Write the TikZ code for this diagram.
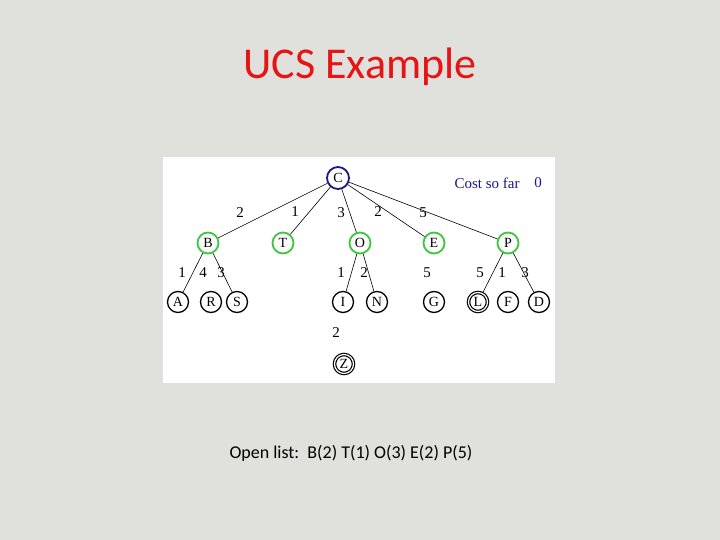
\documentclass[tikz,border=0pt]{standalone}
\usepackage{fontspec}
\setmainfont{Liberation Serif}
\newfontfamily\calib{Carlito}
\definecolor{bggray}{RGB}{224,224,220}
\definecolor{titlered}{RGB}{230,20,20}
\definecolor{navy}{RGB}{25,25,135}
\definecolor{ngreen}{RGB}{60,200,60}
\begin{document}
\begin{tikzpicture}[x=1pt,y=-1pt,
  nd/.style={circle,draw=black,line width=1.3pt,minimum size=21pt,inner sep=0pt,font=\fontsize{14}{14}\selectfont},
  gnd/.style={nd,draw=ngreen,line width=1.8pt},
  cnd/.style={nd,draw=navy,line width=1.8pt,minimum size=22pt},
  dnd/.style={nd,double=white,double distance=1.2pt,line width=1.2pt,minimum size=19pt},
  ed/.style={draw=black,line width=0.6pt},
  lb/.style={font=\fontsize{15}{15}\selectfont,inner sep=0pt}]
\fill[bggray] (0,0) rectangle (720,540);
\useasboundingbox (0,0) rectangle (720,540);
\fill[white] (163,157) rectangle (555,383);
\node[font=\calib\fontsize{44}{44}\selectfont,text=titlered] (title) at (360,67) {UCS Example};
\node[font=\calib\fontsize{18}{18}\selectfont] (open) at (351,453) {Open list:\ \ B(2) T(1) O(3) E(2) P(5)};
% root
\node[cnd] (C) at (338,178) {C};
\node[lb,text=navy] (cost) at (487,183) {Cost so far};
\node[lb,text=navy] (zero) at (538,183) {0};
% level 2
\node[gnd] (B) at (208,243) {B};
\node[gnd] (T) at (283,243) {T};
\node[gnd] (O) at (360,243) {O};
\node[gnd] (E) at (434,243) {E};
\node[gnd] (P) at (508,243) {P};
% level 3
\node[nd] (A) at (178,302) {A};
\node[nd] (R) at (211,302) {R};
\node[nd] (S) at (237,302) {S};
\node[nd] (I) at (343,302) {I};
\node[nd] (N) at (377,302) {N};
\node[nd] (G) at (434,302) {G};
\node[dnd] (L) at (478,302) {L};
\node[nd] (F) at (508,302) {F};
\node[nd] (D) at (539,302) {D};
\node[dnd] (Z) at (344,364) {Z};
% edges
\draw[ed] (C) -- (B);
\draw[ed] (C) -- (T);
\draw[ed] (C) -- (O);
\draw[ed] (C) -- (E);
\draw[ed] (C) -- (P);
\draw[ed] (B) -- (A);
\draw[ed] (B) -- (S);
\draw[ed] (O) -- (I);
\draw[ed] (O) -- (N);
\draw[ed] (P) -- (L);
\draw[ed] (P) -- (D);
% labels
\node[lb] (l1) at (240,213) {2};
\node[lb] (l2) at (295,212) {1};
\node[lb] (l3) at (341,213) {3};
\node[lb] (l4) at (378,212) {2};
\node[lb] (l5) at (423,213) {5};
\node[lb] (l6) at (182,273) {1};
\node[lb] (l7) at (203,273) {4};
\node[lb] (l8) at (221,273) {3};
\node[lb] (l9) at (341,273) {1};
\node[lb] (l10) at (364,273) {2};
\node[lb] (l11) at (427,273) {5};
\node[lb] (l12) at (480,273) {5};
\node[lb] (l13) at (502,273) {1};
\node[lb] (l14) at (525,273) {3};
\node[lb] (l15) at (336,333) {2};
\end{tikzpicture}
\end{document}
